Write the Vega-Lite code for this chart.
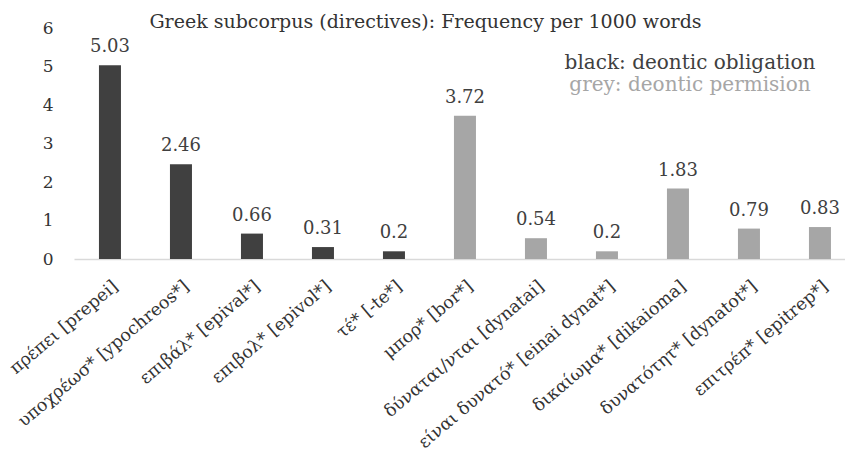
{
  "$schema": "https://vega.github.io/schema/vega-lite/v6.json",
  "autosize": {"type": "none"},
  "width": 771,
  "height": 231,
  "padding": {"left": 74, "top": 28, "right": 0, "bottom": 198},
  "background": "#ffffff",
  "config": {
    "view": {"stroke": null},
    "font": "DejaVu Serif",
    "axis": {"labelFont": "DejaVu Serif", "grid": false, "ticks": false},
    "legend": {"labelFont": "DejaVu Serif"},
    "title": {"font": "DejaVu Serif"},
    "text": {"font": "DejaVu Serif"}
  },
  "title": {
    "text": "Greek subcorpus (directives): Frequency per 1000 words",
    "fontSize": 19,
    "fontWeight": "normal",
    "color": "#333333",
    "anchor": "middle",
    "dx": -34,
    "offset": -13
  },
  "data": {
    "values": [
      {"term": "πρέπει [prepei]", "freq": 5.03, "type": "obligation"},
      {"term": "υποχρέωσ* [ypochreos*]", "freq": 2.46, "type": "obligation"},
      {"term": "επιβάλ* [epival*]", "freq": 0.66, "type": "obligation"},
      {"term": "επιβολ* [epivol*]", "freq": 0.31, "type": "obligation"},
      {"term": "τέ* [-te*]", "freq": 0.2, "type": "obligation"},
      {"term": "μπορ* [bor*]", "freq": 3.72, "type": "permission"},
      {"term": "δύναται/νται [dynatai]", "freq": 0.54, "type": "permission"},
      {"term": "είναι δυνατό* [einai dynat*]", "freq": 0.2, "type": "permission"},
      {"term": "δικαίωμα* [dikaioma]", "freq": 1.83, "type": "permission"},
      {"term": "δυνατότητ* [dynatot*]", "freq": 0.79, "type": "permission"},
      {"term": "επιτρέπ* [epitrep*]", "freq": 0.83, "type": "permission"}
    ]
  },
  "encoding": {
    "x": {
      "field": "term",
      "type": "nominal",
      "sort": null,
      "title": null,
      "scale": {"paddingInner": 0.69, "paddingOuter": 0.2746, "align": 0.64},
      "axis": {
        "labelAngle": -40,
        "labelAlign": "right",
        "labelBaseline": "top",
        "labelFontSize": 17.5,
        "labelColor": "#333333",
        "labelPadding": 18,
        "labelLimit": 400,
        "domainColor": "#d9d9d9",
        "domainWidth": 1.5
      }
    },
    "y": {
      "field": "freq",
      "type": "quantitative",
      "title": null,
      "scale": {"domain": [0, 6]},
      "axis": {
        "values": [0, 1, 2, 3, 4, 5, 6],
        "labelOverlap": false,
        "domain": false,
        "labelFontSize": 17,
        "labelColor": "#333333",
        "labelPadding": 21
      }
    }
  },
  "layer": [
    {
      "mark": {"type": "bar"},
      "encoding": {
        "color": {
          "field": "type",
          "type": "nominal",
          "scale": {"domain": ["obligation", "permission"], "range": ["#404040", "#a6a6a6"]},
          "legend": {
            "orient": "none",
            "legendX": 582,
            "legendY": 25,
            "title": null,
            "direction": "vertical",
            "symbolSize": 0,
            "symbolOpacity": 0,
            "symbolStrokeWidth": 0,
            "labelAlign": "center",
            "labelOffset": 14,
            "labelFontSize": 20,
            "labelLimit": 400,
            "rowPadding": 2,
            "labelExpr": "datum.value == 'obligation' ? 'black: deontic obligation' : 'grey: deontic permision'",
            "encode": {
              "labels": {"update": {"fill": {"scale": "color", "field": "value"}}}
            }
          }
        }
      }
    },
    {
      "mark": {"type": "text", "baseline": "bottom", "dy": -9, "fontSize": 18, "color": "#404040"},
      "encoding": {
        "text": {"field": "freq", "type": "quantitative"}
      }
    }
  ]
}
